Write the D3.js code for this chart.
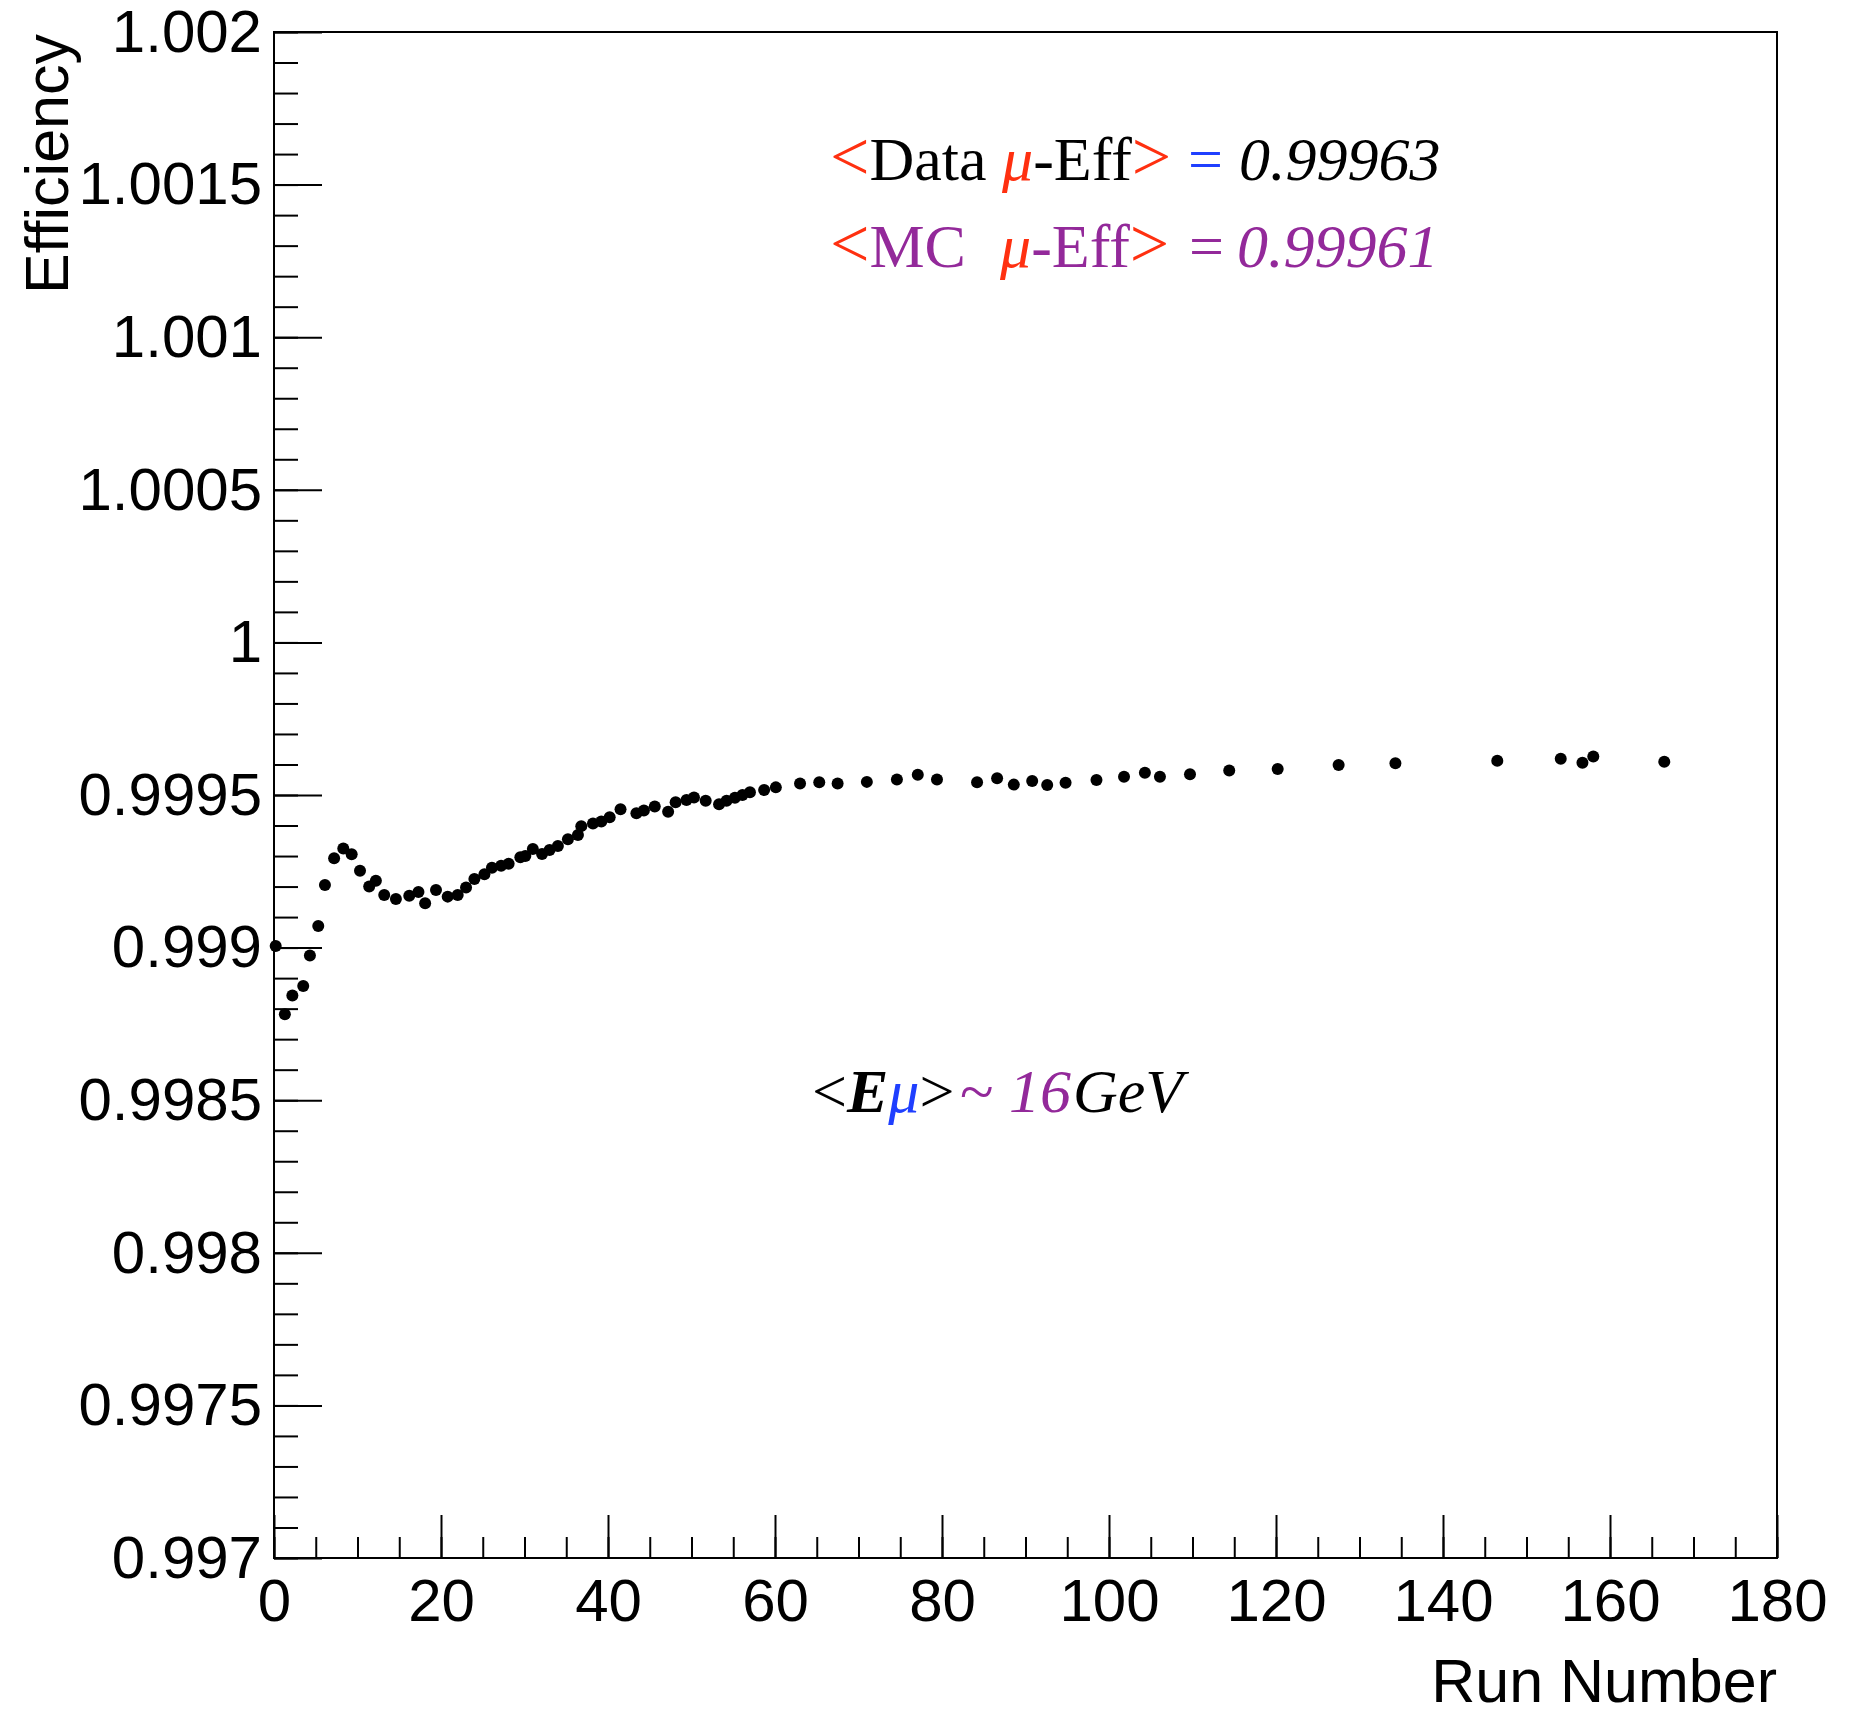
<!DOCTYPE html>
<html>
<head>
<meta charset="utf-8">
<script src="https://cdn.jsdelivr.net/npm/d3@7/dist/d3.min.js"></script>
<style>
body { margin:0; background:#fff; }
.tick text { font-family:"Liberation Sans", Arial, sans-serif; font-size:60px; fill:#000; }
.tick line { stroke:#000; stroke-width:2px; }
.axis-title { font-family:"Liberation Sans", Arial, sans-serif; font-size:61px; fill:#000; }
.note { font-family:"Liberation Serif", "Times New Roman", serif; font-size:62px; }
</style>
</head>
<body>
<div id="chart"></div>
<script>
// data
var runs = [0.2, 1.3, 2.2, 3.5, 4.3, 5.3, 6.1, 7.2, 8.3, 9.3,
	10.3, 11.4, 12.2, 13.2, 14.6, 16.2, 17.3, 18.1, 19.4, 20.8,
	22.0, 23.0, 24.0, 25.2, 26.1, 27.2, 28.1, 29.5, 30.1, 31.0,
	32.1, 33.0, 34.0, 35.2, 36.4, 36.8, 38.2, 39.2, 40.2, 41.5,
	43.4, 44.3, 45.6, 47.2, 48.1, 49.4, 50.3, 51.7, 53.3, 54.2,
	55.2, 56.1, 57.0, 58.7, 60.1, 63.0, 65.3, 67.5, 71.0, 74.6,
	77.1, 79.4, 84.2, 86.6, 88.6, 90.8, 92.6, 94.8, 98.5, 101.8,
	104.3, 106.1, 109.7, 114.4, 120.2, 127.5, 134.3, 146.5, 154.1, 156.7,
	158.0, 166.5];

var effs = [0.999005, 0.998782, 0.998843, 0.998874, 0.998974, 0.999071, 0.999205, 0.999293, 0.999325, 0.999306,
	0.999252, 0.999200, 0.999219, 0.999172, 0.999159, 0.999170, 0.999182, 0.999145, 0.999189, 0.999167,
	0.999172, 0.999197, 0.999225, 0.999240, 0.999262, 0.999268, 0.999275, 0.999296, 0.999300, 0.999323,
	0.999307, 0.999320, 0.999333, 0.999355, 0.999369, 0.999398, 0.999407, 0.999413, 0.999427, 0.999453,
	0.999440, 0.999449, 0.999462, 0.999445, 0.999476, 0.999484, 0.999492, 0.999481, 0.999470, 0.999481,
	0.999491, 0.999500, 0.999509, 0.999516, 0.999525, 0.999538, 0.999542, 0.999538, 0.999543, 0.999551,
	0.999566, 0.999551, 0.999542, 0.999555, 0.999534, 0.999546, 0.999533, 0.999540, 0.999549, 0.999560,
	0.999573, 0.999560, 0.999568, 0.999580, 0.999585, 0.999598, 0.999604, 0.999612, 0.999619, 0.999606,
	0.999626, 0.999609];

var xTicks = [0, 20, 40, 60, 80, 100, 120, 140, 160, 180];
var yTicks = [0.997, 0.9975, 0.998, 0.9985, 0.999, 0.9995, 1, 1.0005, 1.001, 1.0015, 1.002];
var xMinorStep = 5,
	yMinorStep = 0.0001;

//margins
var svgWidth = 1859,
svgHeight = 1713;

var margin = {t:32, r:82, b:155, l:274};

var width = svgWidth - margin.l - margin.r,
height = svgHeight - margin.t - margin.b;

var svg = d3.select('#chart')
	.append('svg')
	.attr('width', svgWidth)
	.attr('height', svgHeight)
	.style('background', '#fff');

var chart = svg.append('g')
	.attr('transform', `translate(${margin.l},${margin.t})`);

var xScale = d3.scaleLinear().domain([0, 180]).range([0, width]);
var yScale = d3.scaleLinear().domain([0.997, 1.002]).range([height, 0]);

var xMinor = d3.range(0, 180 + 0.001, xMinorStep),
	yMinor = d3.range(0, 51).map(i => 0.997 + i * yMinorStep);

// minor ticks
chart.append('g')
	.attr('transform', `translate(0,${height})`)
	.call(d3.axisBottom(xScale).tickValues(xMinor).tickSizeInner(-21).tickSizeOuter(0).tickFormat(''))
	.call(g => g.select('.domain').remove());

chart.append('g')
	.call(d3.axisLeft(yScale).tickValues(yMinor).tickSizeInner(-24).tickSizeOuter(0).tickFormat(''))
	.call(g => g.select('.domain').remove());

// major ticks + labels
chart.append('g')
	.attr('transform', `translate(0,${height})`)
	.call(d3.axisBottom(xScale).tickValues(xTicks).tickSizeInner(-43).tickSizeOuter(0).tickPadding(20).tickFormat(d => d))
	.call(g => g.select('.domain').remove())
	.selectAll('text').attr('font-family', null).attr('font-size', null);

chart.append('g')
	.call(d3.axisLeft(yScale).tickValues(yTicks).tickSizeInner(-48).tickSizeOuter(0).tickPadding(12)
		.tickFormat(d => String(+d.toFixed(4))))
	.call(g => g.select('.domain').remove())
	.selectAll('text').attr('font-family', null).attr('font-size', null);

// frame
chart.append('rect')
	.attr('width', width)
	.attr('height', height)
	.attr('fill', 'none')
	.attr('stroke', '#000')
	.attr('stroke-width', 2);

// points
chart.selectAll('circle')
	.data(runs)
	.enter()
	.append('circle')
	.attr('cx', (d, i) => xScale(d))
	.attr('cy', (d, i) => yScale(effs[i]))
	.attr('r', 6)
	.attr('fill', '#000');

// axis titles
svg.append('text')
	.attr('class', 'axis-title')
	.attr('text-anchor', 'end')
	.attr('x', margin.l + width)
	.attr('y', 1702)
	.text('Run Number');

svg.append('text')
	.attr('class', 'axis-title')
	.attr('text-anchor', 'end')
	.attr('transform', `translate(68,${margin.t + 2})rotate(-90)`)
	.text('Efficiency');

// annotations
var red = '#ff3010', blue = '#1f3fff', purple = '#93299a';

function note(x, y, parts) {
	var t = svg.append('text').attr('class', 'note').attr('x', x).attr('y', y);
	parts.forEach(p => {
		var s = t.append('tspan')
			.attr('fill', p[1])
			.attr('font-style', p[2] || null)
			.attr('font-weight', p[3] || null)
			.text(p[0]);
		if (p[4]) s.attr('font-size', p[4]);
	});
	return t;
}

note(830, 180, [['<', red, null, null, 70], ['Data ', '#000'], ['μ', red, 'italic'], ['-Eff', '#000'], ['>', red, null, null, 70]]);
note(1188, 180, [['=', blue]]);
note(1239, 180, [['0.99963', '#000', 'italic']]);

note(830, 267, [['<', red, null, null, 70], ['MC', purple]]);
note(1000, 267, [['μ', red, 'italic'], ['-Eff', purple], ['>', red, null, null, 70]]);
note(1189, 267, [['=', purple]]);
note(1237, 267, [['0.99961', purple, 'italic']]);

note(812, 1112, [['<', '#000'], ['E', '#000', 'italic', 'bold'], ['μ', blue, 'italic'], ['>', '#000']])
	.attr('font-size', 56);
note(960, 1112, [['~ ', purple], ['16', purple, 'italic']]).attr('font-size', 56);
note(1073, 1112, [['GeV', '#000', 'italic']]).attr('font-size', 62);
</script>
</body>
</html>
